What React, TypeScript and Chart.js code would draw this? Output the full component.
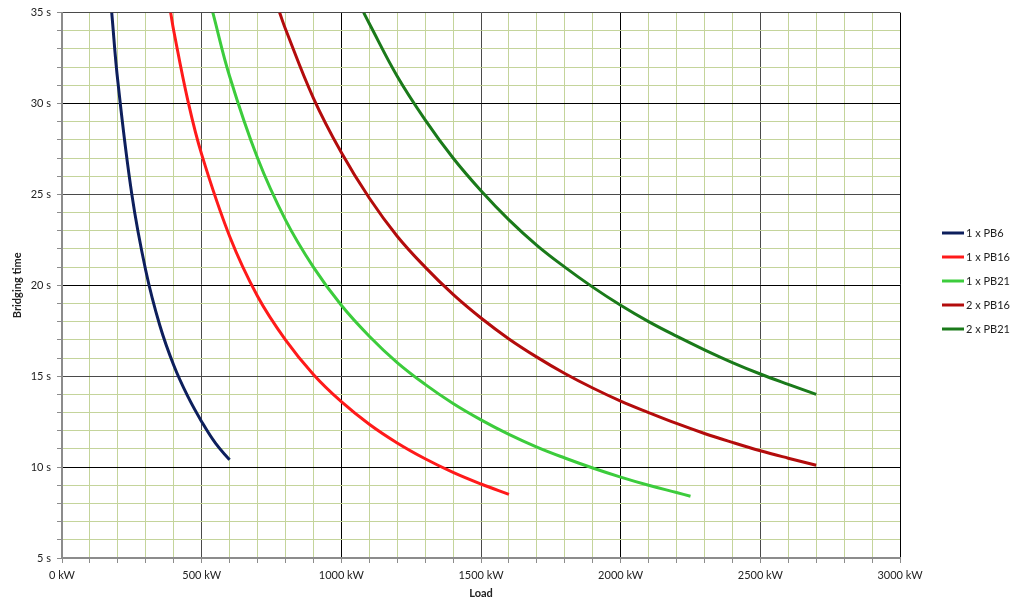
import React, { useEffect, useRef } from "react";
import { Chart, registerables } from "chart.js";

Chart.register(...registerables);

// Load (kW) and bridging time (s), per series
const seriesLabels = ["1 x PB6", "1 x PB16", "1 x PB21", "2 x PB16", "2 x PB21"];
const seriesColors = ["#0d1f5c", "#ff1a1a", "#3ccc3c", "#b30c0c", "#1a7a1a"];

const pb6Load = [178, 200, 250, 300, 350, 400, 450, 500, 550, 600];
const pb6Time = [35, 31.2, 25, 20.8, 17.8, 15.6, 13.9, 12.5, 11.3, 10.4];

const pb16Load = [389, 400, 450, 500, 600, 700, 800, 900, 1000, 1100, 1200, 1300, 1400, 1500, 1600];
const pb16Time = [35, 34, 30.2, 27.2, 22.7, 19.4, 17, 15.1, 13.6, 12.36, 11.33, 10.46, 9.71, 9.07, 8.5];

const pb21Load = [540, 600, 700, 800, 900, 1000, 1100, 1200, 1300, 1400, 1500, 1600, 1700, 1800, 1900, 2000, 2100, 2200, 2250];
const pb21Time = [35, 31.5, 27, 23.6, 21, 18.9, 17.2, 15.75, 14.55, 13.5, 12.6, 11.8, 11.1, 10.5, 9.95, 9.45, 9.0, 8.6, 8.4];

const pb16x2Load = [779, 800, 900, 1000, 1100, 1200, 1300, 1400, 1500, 1600, 1700, 1800, 1900, 2000, 2100, 2200, 2300, 2400, 2500, 2600, 2700];
const pb16x2Time = [35, 34.1, 30.3, 27.3, 24.8, 22.7, 21, 19.5, 18.2, 17.05, 16.05, 15.15, 14.35, 13.63, 13, 12.4, 11.85, 11.36, 10.9, 10.49, 10.1];

const pb21x2Load = [1080, 1100, 1200, 1300, 1400, 1500, 1600, 1700, 1800, 1900, 2000, 2100, 2200, 2300, 2400, 2500, 2600, 2700];
const pb21x2Time = [35, 34.4, 31.5, 29.1, 27, 25.2, 23.6, 22.2, 21, 19.9, 18.9, 18, 17.2, 16.45, 15.75, 15.12, 14.55, 14.0];

const loadSeries = [pb6Load, pb16Load, pb21Load, pb16x2Load, pb21x2Load];
const timeSeries = [pb6Time, pb16Time, pb21Time, pb16x2Time, pb21x2Time];

const xMin = 0;
const xMax = 3000;
const xStep = 100;
const yMin = 5;
const yMax = 35;
const yStep = 1;

const FONT = "Lato, 'Open Sans', sans-serif";

const gridColor = (v: number, major: number, superMajor: number) => {
  if (Math.abs(v % superMajor) < 1e-6) return "#000000";
  if (Math.abs(v % major) < 1e-6) return "#4a4a4a";
  return "#c4d49b";
};

const legendPlugin = {
  id: "sideLegend",
  afterDraw(chart: any) {
    const ctx = chart.ctx;
    ctx.save();
    chart.data.datasets.forEach((ds: any, i: number) => {
      const y = 233 + i * 24;
      ctx.strokeStyle = ds.borderColor;
      ctx.lineWidth = 3;
      ctx.beginPath();
      ctx.moveTo(942, y);
      ctx.lineTo(964, y);
      ctx.stroke();
      ctx.fillStyle = "#222222";
      ctx.font = `11px ${FONT}`;
      ctx.textAlign = "left";
      ctx.textBaseline = "middle";
      ctx.fillText(ds.label, 966, y);
    });
    ctx.restore();
  },
};

export default function App() {
  const canvasRef = useRef<HTMLCanvasElement | null>(null);

  useEffect(() => {
    if (!canvasRef.current) return;
    const datasets = seriesLabels.map((label, i) => ({
      label,
      data: loadSeries[i].map((x, j) => ({ x, y: timeSeries[i][j] })),
      borderColor: seriesColors[i],
      backgroundColor: seriesColors[i],
      borderWidth: 3,
      pointRadius: 0,
      tension: 0.4,
      fill: false,
    }));

    const chart = new Chart(canvasRef.current, {
      type: "line",
      data: { datasets },
      plugins: [legendPlugin],
      options: {
        animation: false,
        responsive: false,
        maintainAspectRatio: false,
        layout: { padding: { left: 0, top: 9, right: 123, bottom: 0 } },
        plugins: { legend: { display: false }, tooltip: { enabled: false } },
        scales: {
          x: {
            type: "linear",
            min: xMin,
            max: xMax,
            afterFit(scale: any) {
              scale.height = 54;
            },
            ticks: {
              stepSize: xStep,
              autoSkip: false,
              maxRotation: 0,
              padding: 6,
              color: "#222222",
              font: { family: FONT, size: 11 },
              callback: (v: any) => (Number(v) % 500 === 0 ? `${v} kW` : ""),
            },
            grid: {
              color: (c: any) => gridColor(c.tick.value, 500, 1000),
              tickColor: "#8c8c8c",
              tickLength: 5,
              lineWidth: 1,
            },
            border: { color: "#8c8c8c", width: 2 },
            title: {
              display: true,
              text: "Load",
              color: "#222222",
              font: { family: FONT, size: 11, weight: "bold" },
              padding: { top: 0, bottom: 12 },
            },
          },
          y: {
            type: "linear",
            min: yMin,
            max: yMax,
            afterFit(scale: any) {
              scale.width = 62;
            },
            ticks: {
              stepSize: yStep,
              autoSkip: false,
              padding: 6,
              color: "#222222",
              font: { family: FONT, size: 11 },
              callback: (v: any) => (Number(v) % 5 === 0 ? `${v} s` : ""),
            },
            grid: {
              color: (c: any) => gridColor(c.tick.value, 5, 10),
              tickColor: "#8c8c8c",
              tickLength: 5,
              lineWidth: 1,
            },
            border: { color: "#8c8c8c", width: 2 },
            title: {
              display: true,
              text: "Bridging time",
              color: "#222222",
              font: { family: FONT, size: 11, weight: "bold" },
              padding: { top: 11, bottom: 0 },
            },
          },
        },
      },
    });
    return () => chart.destroy();
  }, []);

  return (
    <div style={{ position: "fixed", left: 0, top: 0, width: 1023, height: 612, background: "#ffffff" }}>
      <canvas ref={canvasRef} width={1023} height={612} style={{ display: "block" }} />
    </div>
  );
}
